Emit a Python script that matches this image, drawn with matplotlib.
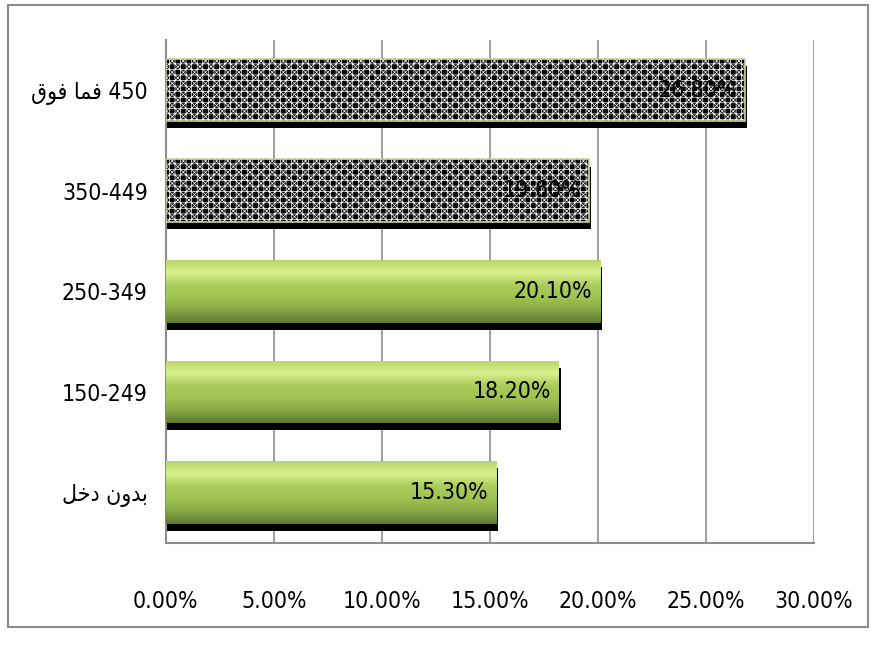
import matplotlib.pyplot as plt
import numpy as np
from matplotlib.colors import LinearSegmentedColormap
from matplotlib.patches import Rectangle

# income groups, top bar first (logical Arabic text)
categories = ["450 فما فوق", "350-449", "250-349", "150-249", "بدون دخل"]
values = [26.8, 19.6, 20.1, 18.2, 15.3]
hatched = [True, True, False, False, False]
xticks = [0, 5, 10, 15, 20, 25, 30]

# minimal Arabic shaping: (isolated, final, initial, medial) forms, None = no left join
FORMS = {
    "ا": ("\uFE8D", "\uFE8E", None, None),
    "ب": ("\uFE8F", "\uFE90", "\uFE91", "\uFE92"),
    "د": ("\uFEA9", "\uFEAA", None, None),
    "و": ("\uFEED", "\uFEEE", None, None),
    "ن": ("\uFEE5", "\uFEE6", "\uFEE7", "\uFEE8"),
    "خ": ("\uFEA5", "\uFEA6", "\uFEA7", "\uFEA8"),
    "ل": ("\uFEDD", "\uFEDE", "\uFEDF", "\uFEE0"),
    "ف": ("\uFED1", "\uFED2", "\uFED3", "\uFED4"),
    "م": ("\uFEE1", "\uFEE2", "\uFEE3", "\uFEE4"),
    "ق": ("\uFED5", "\uFED6", "\uFED7", "\uFED8"),
}


def shape_word(word):
    out = []
    for i, c in enumerate(word):
        f = FORMS[c]
        prev_joins = i > 0 and FORMS[word[i - 1]][2] is not None
        next_joins = f[2] is not None and i < len(word) - 1
        if prev_joins and next_joins:
            out.append(f[3])
        elif prev_joins:
            out.append(f[1])
        elif next_joins:
            out.append(f[2])
        else:
            out.append(f[0])
    return "".join(reversed(out))


def visual(label):
    tokens = label.split(" ")
    if not any(t and t[0] in FORMS for t in tokens):
        return label
    tokens = [shape_word(t) if t[0] in FORMS else t for t in tokens]
    return " ".join(reversed(tokens))


plt.rcParams['font.family'] = ['DejaVu Sans']
plt.rcParams['font.stretch'] = 'condensed'
plt.rcParams['hatch.linewidth'] = 0.5

fig = plt.figure(figsize=(8.73, 6.51), dpi=100)
ax = fig.add_axes([0.190, 0.166, 0.742, 0.773])

green = LinearSegmentedColormap.from_list(
    "g", ["#5f7a30", "#86a745", "#9fc450", "#a9cc5a", "#d9f08e", "#b7d66a"])
grad = np.linspace(0, 1, 100).reshape(-1, 1)

y = np.arange(len(categories))[::-1]
h = 0.62
for yi, v, hat in zip(y, values, hatched):
    # shadow
    ax.add_patch(Rectangle((0, yi - h / 2 - 0.07), v + 0.1, h, facecolor="black",
                           edgecolor="none", zorder=2))
    if hat:
        ax.barh(yi, v, height=h, color="black", edgecolor="white", hatch="+++xxx",
                linewidth=0, zorder=3)
        ax.add_patch(Rectangle((0, yi - h / 2), v, h, fill=False,
                               edgecolor="#c8d89a", linewidth=1.2, zorder=4))
    else:
        bar = ax.barh(yi, v, height=h, color="#9bbb59", linewidth=0, zorder=3)[0]
        im = ax.imshow(grad, cmap=green, aspect="auto", origin="lower",
                       extent=(0, v, yi - h / 2, yi + h / 2), zorder=3.5)
        im.set_clip_path(bar)
    ax.text(v - 0.35, yi, f"{v:.2f}%", ha="right", va="center", fontsize=16.5,
            color="black", zorder=5)

ax.set_xlim(0, 30)
ax.set_ylim(-0.5, 4.5)
ax.set_xticks(xticks)
ax.set_xticklabels([f"{t:.2f}%" for t in xticks], fontsize=16.5)
ax.set_yticks(y)
ax.set_yticklabels([visual(c) for c in categories], fontsize=16.5)
ax.tick_params(axis="x", length=0, pad=34)
ax.tick_params(axis="y", length=0, pad=13)
ax.grid(axis="x", color="#8c8c8c", linewidth=1.2, zorder=0)
ax.set_axisbelow(True)
for s in ["top", "right"]:
    ax.spines[s].set_visible(False)
for s in ["left", "bottom"]:
    ax.spines[s].set_color("#8c8c8c")
    ax.spines[s].set_linewidth(1.5)

# outer chart frame
fig.patches.append(Rectangle((8 / 873, 1 - 627 / 651), 860 / 873, 622 / 651,
                             transform=fig.transFigure, fill=False,
                             edgecolor="#8c8c8c", linewidth=1.5))

fig.savefig("out.png", dpi=100)
